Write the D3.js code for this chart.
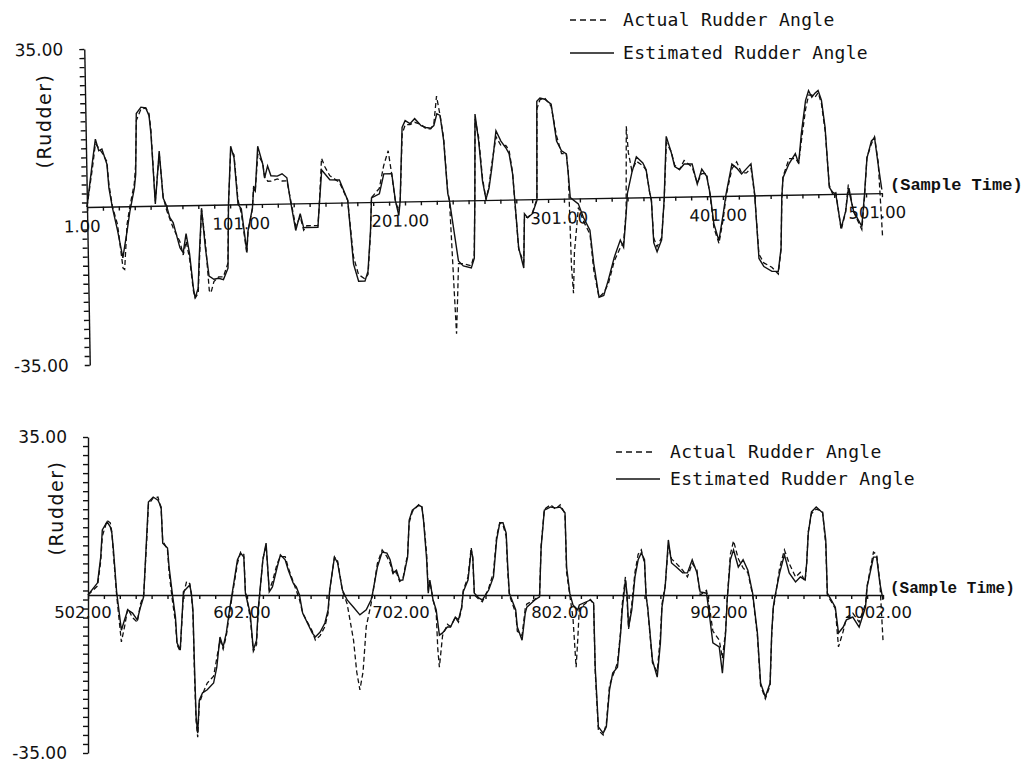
<!DOCTYPE html>
<html><head><meta charset="utf-8">
<script src="https://cdn.jsdelivr.net/npm/d3@7"></script>
<style>body{margin:0;background:#fff}svg{display:block}</style>
</head><body>
<svg id="chart" width="1026" height="762"></svg>
<script>
// ---------- DATA (sample time, rudder angle) ----------
const topEstimated = [[1,0],[5,10.2],[7,15],[9,12.4],[11,12.8],[14,9.4],[15,4.1],[17,-0.3],[20,-5.4],[23,-11.4],[26,-5.4],[28,-1],[31,4],[32,7.1],[33,20.5],[36,21.9],[39,21.7],[41,20],[42,16],[43,8.4],[44,0.4],[47,12.1],[49,1.7],[51,0],[53,-2.7],[55,-3.8],[59,-9.4],[61,-10.5],[63,-6.3],[65,-10.8],[67,-18.3],[68,-20.6],[70,-18.4],[71,-11.7],[73,-0.7],[75,-9.5],[77,-15.8],[80,-16.5],[83,-16.3],[86,-16.6],[89,-14.1],[90,0],[92,12.9],[94,10.3],[96,0],[98,-1],[101,-10.4],[102,-5.9],[105,-0.9],[106,3.5],[107,2.9],[109,12.8],[112,8.8],[113,5.7],[115,8.4],[117,6.2],[121,6.1],[124,6.6],[127,5.7],[129,0.6],[132,-6],[135,-2.3],[137,-5.4],[139,-5.4],[146,-5.4],[147,-0.9],[149,7.3],[154,5.1],[160,5],[165,0.5],[168,-13.7],[171,-17.5],[175,-17.5],[177,-15.3],[179,-6.4],[180,0.9],[185,1.8],[188,6.2],[193,6.2],[195,0.2],[197,-3.1],[198,0.2],[200,16.4],[202,17.9],[205,17.2],[208,18.3],[212,16.7],[215,16.3],[218,16.1],[220,16.7],[222,19.3],[224,18.9],[226,13.4],[227,7.4],[228,1.6],[229,0],[234,-13.4],[237,-14.5],[242,-15],[244,-12.8],[245,0.5],[246,19.1],[248,13.1],[250,4.2],[252,0.2],[254,2.6],[256,7.1],[259,15.3],[262,13],[265,11.5],[267,10.2],[269,5.7],[270,0.4],[272,-10.7],[275,-15.2],[276,-3.2],[278,-4.1],[281,-3.2],[284,-0.3],[285,21.7],[287,22.4],[290,22.1],[294,21],[297,12.8],[300,10.6],[303,9.9],[304,5.5],[305,0.2],[310,-1.2],[313,-4.2],[317,-7.1],[319,-14.4],[322,-22],[325,-21.6],[328,-18.2],[332,-13.2],[336,-9.4],[338,-11],[340,-3.4],[341,1],[344,5.5],[347,9],[351,7.6],[353,6.1],[355,1],[356,-0.6],[357,-10.1],[359,-12.1],[362,-9.5],[364,-0.6],[366,13.4],[369,9.8],[371,6.7],[374,6],[377,7.2],[382,7.2],[385,2.7],[388,6],[391,4.4],[393,0.5],[395,-6.1],[398,-9.9],[401,-4],[403,0.4],[407,7],[410,6.1],[413,4.8],[416,5.9],[419,7],[421,0.3],[423,-14],[426,-15.8],[431,-16.9],[435,-16.9],[437,-11.8],[438,-0.7],[439,3.8],[443,6.9],[447,9.1],[449,6.9],[451,13.5],[454,20.8],[456,23],[458,21.5],[460,22.4],[462,23],[464,20.8],[466,14.8],[468,1.5],[470,0.4],[472,0],[475,-7.6],[478,-3.9],[480,1.2],[483,-3.9],[488,-7.3],[490,-0.4],[492,7.8],[495,11.6],[497,12.3],[499,6.3],[501,0.8]];

const topActual = [[1,0],[5,9],[7,14],[9,13],[11,12],[14,10],[15,5],[17,0],[20,-4],[23,-13.7],[24,-14],[26,-4],[28,0],[31,5],[32,9],[33,19],[36,21.5],[39,21.7],[41,20.5],[42,17],[43,9],[44,1],[47,11.5],[49,2],[51,-1],[53,-3],[55,-5],[59,-8],[61,-11],[63,-8],[65,-12],[67,-19],[68,-20.6],[70,-19.5],[71,-13],[73,-1],[75,-8],[77,-19],[78,-19.5],[80,-17],[83,-16],[86,-16],[89,-13],[90,0],[92,12],[94,11],[96,1],[98,-2],[101,-11],[102,-6],[105,-1],[106,4],[107,3],[109,11],[112,9],[113,6],[115,5],[117,5],[121,5.5],[124,5],[127,5],[129,1],[132,-5],[135,-3],[137,-6],[139,-5],[146,-5],[147,-1],[149,9.9],[151,8],[154,6],[160,4.5],[165,0.5],[168,-12],[171,-16],[175,-17],[177,-16],[179,-7],[180,1],[185,3],[188,8],[191,11.3],[193,6],[195,0],[197,-2],[198,0],[200,15],[202,17],[205,17],[208,17.5],[212,17],[215,16],[218,16],[220,17],[222,23.2],[224,19],[226,14],[227,8],[228,2],[229,0],[231,-20],[232,-29.5],[233,-22],[234,-14],[237,-14],[242,-14.5],[244,-12],[245,1],[246,18],[248,14],[250,5],[252,0],[254,3],[256,8],[259,14],[262,12],[265,12],[267,11],[269,6],[270,0],[272,-11],[275,-14],[276,-4],[278,-4],[281,-3],[284,0],[285,20],[287,22],[290,22.4],[294,20.5],[297,14],[300,10],[303,10],[304,6],[305,-15],[306,-21],[307,-12],[310,-2],[313,-5],[317,-8],[319,-16],[322,-22],[325,-21],[328,-19],[332,-14],[336,-11],[338,-10],[340,-3],[341,15.8],[342,10],[344,6],[347,8],[351,7],[353,6],[355,1],[356,-1],[357,-9],[359,-11],[362,-9],[364,-1],[366,12],[369,10],[371,7],[374,6],[377,8],[382,6.5],[385,3],[388,5],[391,5],[393,0],[395,-7],[398,-10.5],[401,-5],[403,0],[407,6],[410,7.5],[413,5],[416,5],[419,6],[421,0],[423,-13],[426,-15],[431,-16],[435,-17.5],[437,-12],[438,-1],[439,4],[443,8],[447,8],[449,7],[451,12],[454,19],[456,22],[458,22],[460,21.5],[462,22.5],[464,20],[466,14],[468,2],[470,0],[472,0.5],[475,-8],[478,-4],[480,2],[483,-4],[488,-8],[490,-1],[492,8],[495,11],[497,12.5],[499,7],[501,-10]];

const bottomEstimated = [[502,0],[508,2.7],[510,8.4],[511,14.4],[514,16.2],[516,15.1],[517,13.7],[518,10],[520,0.7],[523,-7.8],[525,-5.5],[527,-3.3],[530,-4],[533,-5.5],[535,-2.7],[537,-0.4],[539,13.7],[540,20.6],[543,21.7],[546,21],[548,19.5],[549,11.5],[552,10.4],[553,6.2],[555,0.4],[557,-4.9],[558,-10.6],[560,-12.2],[562,0.7],[566,2.2],[567,0.4],[568,-3.3],[569,-16],[570,-27],[571,-30.6],[572,-23.3],[574,-21.7],[577,-21],[581,-19.5],[583,-16],[585,-9.3],[587,-11.5],[589,-8.4],[591,-3.3],[593,1.1],[596,7.8],[598,9.3],[600,8.4],[601,0.4],[602,-1.1],[604,-4],[606,-12.2],[608,-10],[609,-3.3],[612,7.8],[614,11.5],[615,6.2],[616,0.7],[618,1.8],[621,6.2],[623,8.9],[626,7.8],[628,5.5],[631,2.7],[633,1.8],[635,0],[637,-4],[643,-8.4],[645,-9.3],[648,-8.2],[651,-6.2],[653,-3.3],[654,1.1],[657,8.4],[659,7.1],[662,1.1],[665,-1.1],[669,-2.7],[673,-4.4],[677,-3.3],[680,-1.1],[681,0.4],[684,6.2],[687,9.5],[690,9.3],[692,7.8],[694,4.9],[696,5.5],[698,3.3],[700,3.3],[703,8.4],[704,16.6],[706,18.8],[710,19.9],[712,19.5],[713,16.6],[715,7.8],[716,0.4],[717,3.3],[719,-1.1],[721,-3.3],[723,-8.9],[725,-8.4],[728,-7.1],[730,-7.1],[733,-4.9],[735,-5.5],[737,-2.7],[738,0.7],[741,3.3],[743,10],[744,8.4],[745,0.4],[748,-0.7],[750,-1.1],[754,1.1],[757,4],[759,12.2],[761,16],[763,16],[765,13.7],[766,6.2],[767,0.4],[771,-3.3],[772,-7.1],[775,-10],[777,-4],[778,-2.7],[783,-1.1],[786,-0.4],[787,10.6],[789,18.8],[793,19.5],[796,19.3],[799,19.5],[802,18.2],[803,6.2],[805,0.4],[807,-2.2],[810,-3.3],[811,-2.2],[818,-1.1],[820,-1.8],[821,-16],[823,-29.2],[826,-30.6],[828,-29.2],[830,-21],[832,-17.3],[835,-16],[837,-8.4],[838,-3.3],[840,3.3],[841,0.4],[842,-7.1],[844,-3.3],[846,4],[848,7.8],[850,9.3],[852,7.8],[853,-0.4],[854,-2.7],[857,-14.4],[860,-18.2],[862,-10.6],[863,-2.7],[865,1.8],[867,12.2],[869,7.1],[872,6.2],[876,4.9],[879,4.9],[882,7.8],[885,4.9],[887,0.7],[891,0.4],[893,-4.9],[895,-10.6],[899,-11.5],[901,-17.3],[903,-8.4],[904,-1.1],[906,7.8],[908,10],[911,6.2],[914,7.8],[917,5.5],[920,0.4],[923,-8.4],[925,-19.5],[928,-22.6],[931,-19.5],[932,-8.4],[933,-2.7],[934,-0.4],[937,4.9],[940,8.9],[943,4.9],[947,2.9],[950,4],[953,3.3],[954,7.1],[955,13.7],[957,18.4],[960,19.5],[964,18.2],[966,12.2],[967,0.4],[972,-2.7],[974,-8.4],[977,-7.1],[979,-5.5],[983,-4.9],[987,-7.1],[991,-2.7],[992,1.8],[996,8.4],[998,8.4],[1000,2.7],[1002,-1.1]];

const bottomActual = [[502,0],[508,2],[510,7.5],[511,13],[514,16.5],[516,16],[517,14],[518,9],[520,0],[523,-10.4],[525,-7],[527,-3],[530,-5],[533,-6],[535,-2],[537,0],[539,12.5],[540,20],[543,21.5],[546,21.7],[548,19],[549,12],[552,10],[553,5],[555,-1],[557,-6],[558,-11],[560,-12.5],[562,0],[564,3],[566,2.5],[567,0],[568,-4],[569,-18],[570,-28],[571,-31.5],[572,-24],[574,-22],[577,-19.5],[581,-18],[583,-14],[585,-10],[587,-12],[589,-9],[591,-4],[593,0.5],[596,7],[598,9.5],[600,9],[601,1],[602,-1],[604,-5],[606,-12.5],[608,-11],[609,-4],[612,8],[614,11],[615,6],[616,1],[618,3],[621,7],[623,8.5],[626,8.5],[628,6],[631,3],[633,1],[635,-1],[637,-4],[643,-8],[645,-10],[648,-9],[651,-7],[653,-4],[654,1],[657,8.4],[659,7.5],[662,1],[665,-2],[669,-10],[671,-17],[673,-21],[675,-17],[677,-7],[680,-2],[681,0],[684,7],[687,10],[690,8.5],[692,7],[694,4.5],[696,5],[698,3],[700,3.5],[703,9],[704,16],[706,18.5],[710,20],[712,19.5],[713,17],[715,9],[716,1],[717,3],[719,-1],[721,-4],[722,-12],[723,-16],[725,-9],[728,-6.5],[730,-7],[733,-5],[735,-6],[737,-3],[738,1],[741,4],[743,10.5],[744,8],[745,0],[748,-1],[750,-1.5],[754,1.5],[757,5],[759,13],[761,16],[763,15.5],[765,13],[766,5],[767,0],[771,-4],[772,-8],[775,-9],[777,-3],[778,-2],[783,-1],[786,0],[787,11],[789,19],[793,20],[796,19],[799,20],[802,18],[803,5],[805,0],[807,-5],[809,-16],[810,-10],[811,-3],[818,-1],[820,-2],[821,-17],[823,-30],[826,-31],[828,-28.5],[830,-20],[832,-18],[835,-15],[837,-8],[838,-2],[840,4],[841,-1],[842,-7.5],[844,-2],[846,5],[848,9],[850,10],[852,7],[853,0],[854,-3],[857,-15],[860,-17],[862,-9],[863,-2],[865,2],[867,11],[869,8],[872,7],[876,5.5],[879,4],[882,7],[885,5.5],[887,0],[891,1],[893,-3],[895,-8],[899,-10],[901,-14],[903,-8],[904,-1],[906,9],[908,12],[911,8],[914,6],[917,5],[920,0],[923,-9],[925,-20],[928,-23],[931,-20],[932,-9],[933,-3],[934,-1],[937,6],[940,10],[943,7],[947,4],[950,5],[953,3],[954,7],[955,14],[957,18],[960,19],[964,18.5],[966,11],[967,0],[972,-3],[974,-11.5],[977,-8],[979,-5],[983,-4],[987,-6],[991,-2],[992,2],[996,9.5],[998,9],[1000,3],[1002,-10]];

const topXDomain = [1, 501];
const bottomXDomain = [502, 1002];
const topXLabels = ["1.00", "101.00", "201.00", "301.00", "401.00", "501.00"];
const topXLabelValues = [1, 101, 201, 301, 401, 501];
const bottomXLabels = ["502.00", "602.00", "702.00", "802.00", "902.00", "1002.00"];
const bottomXLabelValues = [502, 602, 702, 802, 902, 1002];
const yDomain = [-35, 35];
const yLabels = ["35.00", "-35.00"];
const yLabelValues = [35, -35];
const legendLabels = ["Actual Rudder Angle", "Estimated Rudder Angle"];
const axisTitleY = "(Rudder)";
const axisTitleX = "(Sample Time)";

// ---------- DRAWING ----------
const svg = d3.select("#chart");
svg.append("rect").attr("width", 1026).attr("height", 762).attr("fill", "#fff");
const ink = "#111";

function drawPanel(cfg) {
  const g = svg.append("g");
  if (cfg.rotate) g.attr("transform", `rotate(${cfg.rotate},${cfg.x0},${cfg.yZero})`);
  const x = d3.scaleLinear().domain(cfg.xDomain).range([cfg.x0, cfg.x1]);
  const y = d3.scaleLinear().domain(yDomain).range([cfg.yBottom, cfg.yTop]);

  // y axis
  const yAxis = d3.axisLeft(y).tickValues(d3.range(-35, 36, 2)).tickFormat("").tickSize(5).tickSizeOuter(0);
  const ya = g.append("g").attr("transform", `translate(${cfg.x0},0)`).call(yAxis);
  ya.selectAll("path,line").attr("stroke", ink).attr("stroke-width", 1.4);

  // x axis on zero line
  const xTicks = d3.range(cfg.xDomain[0], cfg.xDomain[1] + 1, 10);
  const xAxis = d3.axisBottom(x).tickValues(xTicks).tickFormat("").tickSize(4).tickSizeOuter(0);
  const xa = g.append("g").attr("transform", `translate(0,${y(0)})`).call(xAxis);
  xa.selectAll("path,line").attr("stroke", ink).attr("stroke-width", 1.4);

  // x labels
  g.selectAll("text.xl").data(cfg.xLabelValues).enter().append("text")
    .attr("x", d => x(d) - 5).attr("y", y(0) + cfg.labelDy)
    .attr("text-anchor", "middle")
    .attr("font-family", "DejaVu Sans").attr("font-size", 16.5).attr("fill", ink)
    .text((d, i) => cfg.xLabels[i]);

  // y labels
  g.selectAll("text.yl").data(yLabelValues).enter().append("text")
    .attr("x", cfg.x0 - 21).attr("y", d => y(d) + 6)
    .attr("text-anchor", "end")
    .attr("font-family", "DejaVu Sans").attr("font-size", 17).attr("fill", ink)
    .text((d, i) => yLabels[i]);

  const line = d3.line().x(d => x(d[0])).y(d => y(d[1]));
  g.append("path").datum(cfg.actual).attr("d", line)
    .attr("fill", "none").attr("stroke", ink).attr("stroke-width", 1.3)
    .attr("stroke-dasharray", "5,3");
  g.append("path").datum(cfg.estimated).attr("d", line)
    .attr("fill", "none").attr("stroke", ink).attr("stroke-width", 1.4);

  // y title
  svg.append("text")
    .attr("transform", `translate(${cfg.titleX},${cfg.titleY}) rotate(-90)`)
    .attr("text-anchor", "middle").attr("dominant-baseline", "middle")
    .attr("font-family", "DejaVu Sans").attr("font-size", 19)
    .attr("letter-spacing", 1.5).attr("fill", ink)
    .text(axisTitleY);

  // x title
  svg.append("text").attr("x", cfg.sampleX).attr("y", cfg.sampleY)
    .attr("font-family", "Liberation Mono").attr("font-weight", "bold")
    .attr("font-size", cfg.sampleSize).attr("fill", ink).text(axisTitleX);

  // legend
  const lg = svg.append("g");
  lg.append("line").attr("x1", cfg.legX).attr("x2", cfg.legX + 40)
    .attr("y1", cfg.legY1).attr("y2", cfg.legY1)
    .attr("stroke", ink).attr("stroke-width", 1.3).attr("stroke-dasharray", "6,4");
  lg.append("line").attr("x1", cfg.legX).attr("x2", cfg.legX + 44)
    .attr("y1", cfg.legY2).attr("y2", cfg.legY2)
    .attr("stroke", ink).attr("stroke-width", 1.4);
  [cfg.legY1, cfg.legY2].forEach((ly, i) => {
    lg.append("text").attr("x", cfg.legTextX).attr("y", ly + 6)
      .attr("font-family", "DejaVu Sans Mono").attr("font-size", 18)
      .attr("letter-spacing", 0.3).attr("fill", ink).text(legendLabels[i]);
  });
}

drawPanel({
  xDomain: topXDomain, x0: 87, x1: 882, yTop: 49, yBottom: 365, yZero: 207, rotate: -1,
  xLabels: topXLabels, xLabelValues: topXLabelValues, labelDy: 25,
  actual: topActual, estimated: topEstimated,
  titleX: 45, titleY: 121, sampleX: 890, sampleY: 190, sampleSize: 17,
  legX: 570, legY1: 20, legY2: 53, legTextX: 623
});

drawPanel({
  xDomain: bottomXDomain, x0: 88, x1: 883, yTop: 437, yBottom: 753, yZero: 595, rotate: 0,
  xLabels: bottomXLabels, xLabelValues: bottomXLabelValues, labelDy: 23,
  actual: bottomActual, estimated: bottomEstimated,
  titleX: 57, titleY: 508, sampleX: 890, sampleY: 593, sampleSize: 16,
  legX: 616, legY1: 452, legY2: 479, legTextX: 670
});
</script>
</body></html>
